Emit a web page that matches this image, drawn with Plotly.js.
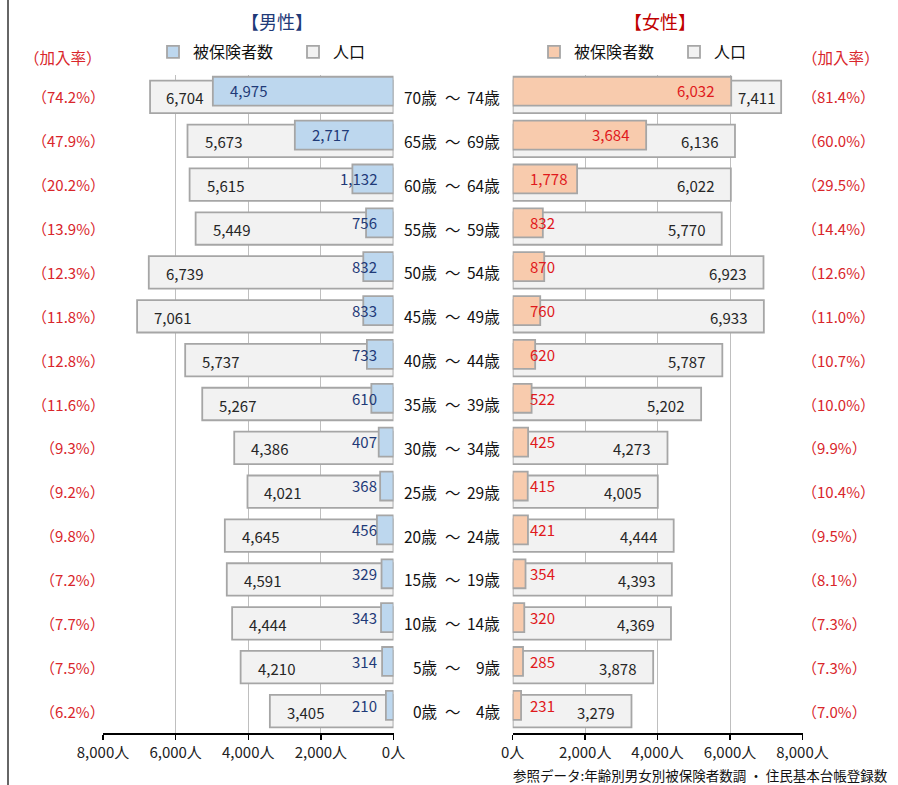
<!DOCTYPE html>
<html>
<head>
<meta charset="utf-8">
<script src="https://cdn.plot.ly/plotly-3.0.1.min.js"></script>
<style>html,body{margin:0;padding:0;background:#fff;}#chart{width:898px;height:785px;}</style>
</head>
<body>
<div id="chart"></div>
<script>
// Age groups, bottom to top
const ageLo = [0, 5, 10, 15, 20, 25, 30, 35, 40, 45, 50, 55, 60, 65, 70];
const ageHi = [4, 9, 14, 19, 24, 29, 34, 39, 44, 49, 54, 59, 64, 69, 74];
const categories = ageLo.map((a, i) => a + '-' + ageHi[i]);

// Male
const malePop = [3405, 4210, 4444, 4591, 4645, 4021, 4386, 5267, 5737, 7061, 6739, 5449, 5615, 5673, 6704];
const maleIns = [210, 314, 343, 329, 456, 368, 407, 610, 733, 833, 832, 756, 1132, 2717, 4975];
const maleRate = [6.2, 7.5, 7.7, 7.2, 9.8, 9.2, 9.3, 11.6, 12.8, 11.8, 12.3, 13.9, 20.2, 47.9, 74.2];

// Female
const femalePop = [3279, 3878, 4369, 4393, 4444, 4005, 4273, 5202, 5787, 6933, 6923, 5770, 6022, 6136, 7411];
const femaleIns = [231, 285, 320, 354, 421, 415, 425, 522, 620, 760, 870, 832, 1778, 3684, 6032];
const femaleRate = [7.0, 7.3, 7.3, 8.1, 9.5, 10.4, 9.9, 10.0, 10.7, 11.0, 12.6, 14.4, 29.5, 60.0, 81.4];

const tickVals = [0, 2000, 4000, 6000, 8000];

const FONT = '"Noto Sans CJK JP", "Noto Sans", sans-serif';
const BORDER = '#a6a6a6';
const POP_FILL = '#f2f2f2';
const MALE_FILL = '#bdd7ee';
const FEMALE_FILL = '#f8cbad';
const MALE_TXT = '#1f3a78';
const FEMALE_TXT = '#e0191c';
const RATE_TXT = '#d9262b';
const DARK = '#262626';

const popW = 0.74, popOff = -0.37;
const insW = 0.66, insOff = -0.2;

function barTrace(x, fill, xaxis, name, legend, rank) {
  return {
    type: 'bar', orientation: 'h', y: categories, x: x, xaxis: xaxis, yaxis: 'y',
    name: name, legend: legend, legendrank: rank,
    width: categories.map(() => name === '人口' ? popW : insW),
    offset: name === '人口' ? popOff : insOff,
    marker: {color: fill, line: {color: BORDER, width: 1.8}},
    hoverinfo: 'x+y'
  };
}

const data = [
  barTrace(malePop, POP_FILL, 'x', '人口', 'legend', 2),
  barTrace(maleIns, MALE_FILL, 'x', '被保険者数', 'legend', 1),
  barTrace(femalePop, POP_FILL, 'x2', '人口', 'legend2', 2),
  barTrace(femaleIns, FEMALE_FILL, 'x2', '被保険者数', 'legend2', 1)
];

const fmt = v => v.toLocaleString('en-US');
const ann = [];
const lblFont = (c) => ({family: FONT, size: 15, color: c});

categories.forEach((c, i) => {
  // male insured label
  if (maleIns[i] >= 2000) {
    ann.push({xref: 'x', yref: 'y', x: maleIns[i], y: c, text: fmt(maleIns[i]), showarrow: false,
      xanchor: 'left', xshift: 15, yshift: 6, font: lblFont(MALE_TXT)});
  } else {
    ann.push({xref: 'x', yref: 'y', x: 0, y: c, text: fmt(maleIns[i]), showarrow: false,
      xanchor: 'right', xshift: -15, yshift: 6, font: lblFont(MALE_TXT)});
  }
  // male pop label
  if (malePop[i] - maleIns[i] < 2000) {
    ann.push({xref: 'x', yref: 'y', x: (malePop[i] + maleIns[i]) / 2, y: c, text: fmt(malePop[i]), showarrow: false,
      xanchor: 'center', xshift: 3, yshift: -1, font: lblFont(DARK)});
  } else {
    ann.push({xref: 'x', yref: 'y', x: malePop[i], y: c, text: fmt(malePop[i]), showarrow: false,
      xanchor: 'left', xshift: 15, yshift: -1, font: lblFont(DARK)});
  }
  // female insured label
  if (femaleIns[i] >= 2000) {
    ann.push({xref: 'x2', yref: 'y', x: femaleIns[i], y: c, text: fmt(femaleIns[i]), showarrow: false,
      xanchor: 'right', xshift: -15, yshift: 6, font: lblFont(FEMALE_TXT)});
  } else {
    ann.push({xref: 'x2', yref: 'y', x: 0, y: c, text: fmt(femaleIns[i]), showarrow: false,
      xanchor: 'left', xshift: 15, yshift: 6, font: lblFont(FEMALE_TXT)});
  }
  // female pop label
  if (femalePop[i] - femaleIns[i] < 2000) {
    ann.push({xref: 'x2', yref: 'y', x: (femalePop[i] + femaleIns[i]) / 2, y: c, text: fmt(femalePop[i]), showarrow: false,
      xanchor: 'center', yshift: -1, font: lblFont(DARK)});
  } else {
    ann.push({xref: 'x2', yref: 'y', x: femalePop[i], y: c, text: fmt(femalePop[i]), showarrow: false,
      xanchor: 'right', xshift: -15, yshift: -1, font: lblFont(DARK)});
  }
  // rates
  ann.push({xref: 'paper', yref: 'y', x: 107 / 898, y: c, text: '（' + maleRate[i].toFixed(1) + '%）', showarrow: false,
    xanchor: 'right', font: lblFont(RATE_TXT)});
  ann.push({xref: 'paper', yref: 'y', x: 800 / 898, y: c, text: '（' + femaleRate[i].toFixed(1) + '%）', showarrow: false,
    xanchor: 'left', font: lblFont(RATE_TXT)});
  // age labels
  ann.push({xref: 'paper', yref: 'y', x: 439 / 898, y: c, text: ageLo[i] + '歳', showarrow: false,
    xanchor: 'right', font: {family: FONT, size: 15.5, color: '#111'}});
  ann.push({xref: 'paper', yref: 'y', x: 453 / 898, y: c, text: '～', showarrow: false,
    xanchor: 'center', font: {family: FONT, size: 15.5, color: '#111'}});
  ann.push({xref: 'paper', yref: 'y', x: 502 / 898, y: c, text: ageHi[i] + '歳', showarrow: false,
    xanchor: 'right', font: {family: FONT, size: 15.5, color: '#111'}});
});

// headers and titles
ann.push({xref: 'paper', yref: 'paper', x: 277 / 898, y: 1 - 21 / 785, text: '【男性】', showarrow: false,
  xanchor: 'center', yanchor: 'middle', font: {family: FONT, size: 18, color: MALE_TXT}});
ann.push({xref: 'paper', yref: 'paper', x: 660 / 898, y: 1 - 21 / 785, text: '【女性】', showarrow: false,
  xanchor: 'center', yanchor: 'middle', font: {family: FONT, size: 18, color: '#c00000'}});
ann.push({xref: 'paper', yref: 'paper', x: 104 / 898, y: 1 - 57 / 785, text: '（加入率）', showarrow: false,
  xanchor: 'right', yanchor: 'middle', font: {family: FONT, size: 15.5, color: RATE_TXT}});
ann.push({xref: 'paper', yref: 'paper', x: 800 / 898, y: 1 - 57 / 785, text: '（加入率）', showarrow: false,
  xanchor: 'left', yanchor: 'middle', font: {family: FONT, size: 15.5, color: RATE_TXT}});
ann.push({xref: 'paper', yref: 'paper', x: 890 / 898, y: 1 - 775 / 785, text: '参照データ:年齢別男女別被保険者数調 ・ 住民基本台帳登録数', showarrow: false,
  xanchor: 'right', yanchor: 'middle', font: {family: FONT, size: 13.5, color: '#111'}});

const xCommon = {
  tickmode: 'array', tickvals: tickVals, ticktext: tickVals.map(v => fmt(v) + '人'),
  showgrid: true, gridcolor: '#bfbfbf', gridwidth: 1,
  zeroline: false, showline: true, linecolor: '#000', linewidth: 2,
  ticks: 'outside', ticklen: 5, tickcolor: '#000', tickwidth: 1.5,
  tickfont: {family: FONT, size: 15, color: '#222'}, fixedrange: true
};

const legendCommon = {
  orientation: 'h', yanchor: 'middle', y: 1 - 52 / 785, xanchor: 'left',
  font: {family: FONT, size: 16, color: '#111'}, bgcolor: 'rgba(0,0,0,0)',
  traceorder: 'normal', itemclick: false, itemdoubleclick: false, entrywidth: 95
};

const layout = {
  width: 898, height: 785,
  margin: {l: 0, r: 0, t: 0, b: 0},
  paper_bgcolor: '#fff', plot_bgcolor: 'rgba(0,0,0,0)',
  barmode: 'overlay',
  font: {family: FONT},
  xaxis: Object.assign({}, xCommon, {domain: [103 / 898, 393.5 / 898], range: [8000, 0], anchor: 'y'}),
  xaxis2: Object.assign({}, xCommon, {domain: [512.7 / 898, 802.5 / 898], range: [0, 8000], anchor: 'y'}),
  yaxis: {domain: [(785 - 733) / 785, (785 - 75) / 785], range: [-0.5, 14.5], type: 'category',
    showticklabels: false, showgrid: false, zeroline: false, ticks: '', fixedrange: true},
  showlegend: true,
  legend: Object.assign({}, legendCommon, {x: 153 / 898}),
  legend2: Object.assign({}, legendCommon, {x: 534 / 898}),
  annotations: ann,
  shapes: [{type: 'line', xref: 'paper', yref: 'paper', x0: 8 / 898, x1: 8 / 898, y0: 0, y1: 1,
    line: {color: '#333', width: 1.5}}]
};

Plotly.newPlot('chart', data, layout, {displayModeBar: false, staticPlot: true});
</script>
</body>
</html>
